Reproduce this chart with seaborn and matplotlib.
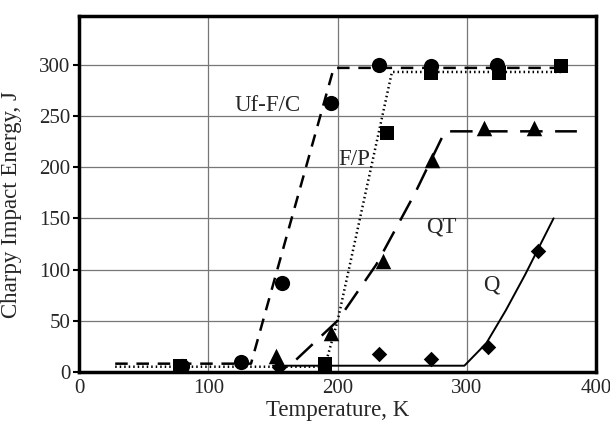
import matplotlib
matplotlib.use("Agg")
import matplotlib.pyplot as plt
import seaborn as sns
import numpy as np

# Measured points
uf_x = [80, 125, 157, 195, 232, 272, 323]
uf_y = [6, 10, 87, 263, 300, 299, 300]
fp_x = [78, 190, 238, 272, 325, 373]
fp_y = [6, 8, 233, 292, 292, 299]
qt_x = [152, 195, 235, 273, 313, 352]
qt_y = [15, 38, 108, 207, 238, 238]
q_x = [155, 232, 272, 316, 355]
q_y = [5, 17, 13, 24, 118]

# Fitted curves
uf_cx = [28, 133, 197, 375]
uf_cy = [8, 8, 297, 297]
fp_cx = [28, 190, 200, 242, 373]
fp_cy = [5, 5, 50, 293, 293]
qt_cx = [168, 200, 230, 260, 283, 385]
qt_cy = [12, 50, 105, 175, 235, 235]
q_cx = [150, 298, 315, 330, 345, 367]
q_cy = [6, 6, 28, 60, 95, 150]

labels = ["Uf-F/C", "F/P", "QT", "Q"]
label_pos = [(146, 260), (213, 207), (280, 142), (319, 85)]

sns.set_style("whitegrid")
plt.rcParams['font.family'] = ['Liberation Serif', 'DejaVu Serif']

fig = plt.figure(figsize=(6.1, 4.24), dpi=100)
ax = fig.add_axes([0.1295, 0.123, 0.848, 0.84])

kw = dict(ax=ax, color='black', estimator=None, sort=False, legend=False)
sns.lineplot(x=uf_cx, y=uf_cy, lw=1.8, **kw)
ax.lines[-1].set_dashes([5, 3.5])
sns.lineplot(x=fp_cx, y=fp_cy, lw=1.8, **kw)
ax.lines[-1].set_linestyle((0, (0.6, 1.2)))
sns.lineplot(x=qt_cx, y=qt_cy, lw=1.8, **kw)
ax.lines[-1].set_dashes([9, 5])
sns.lineplot(x=q_cx, y=q_cy, lw=1.4, **kw)

skw = dict(ax=ax, color='black', edgecolor='black', linewidth=0, legend=False, zorder=5)
sns.scatterplot(x=uf_x, y=uf_y, marker='o', s=120, **skw)
sns.scatterplot(x=fp_x, y=fp_y, marker='s', s=100, **skw)
sns.scatterplot(x=qt_x, y=qt_y, marker='^', s=125, **skw)
sns.scatterplot(x=q_x, y=q_y, marker='D', s=62, **skw)

for t, (lx, ly) in zip(labels, label_pos):
    ax.text(lx, ly, t, fontsize=16.5, ha='center', va='center')

ax.set_xlim(0, 400)
ax.set_ylim(0, 348)
ax.set_xticks([0, 100, 200, 300, 400])
ax.set_yticks([0, 50, 100, 150, 200, 250, 300])
ax.grid(True, color='#777777', lw=0.9)
for s in ax.spines.values():
    s.set_color('black')
    s.set_linewidth(2.5)
ax.tick_params(axis='y', left=True, length=4, width=1.5, color='black', labelsize=15, pad=2)
ax.tick_params(axis='x', bottom=False, labelsize=15, pad=2)
ax.set_xlabel("Temperature, K", fontsize=16.5, labelpad=1)
ax.set_ylabel("Charpy Impact Energy, J", fontsize=16.5)
ax.yaxis.set_label_coords(-0.11, 0.47)

fig.savefig("out.png", dpi=100)
